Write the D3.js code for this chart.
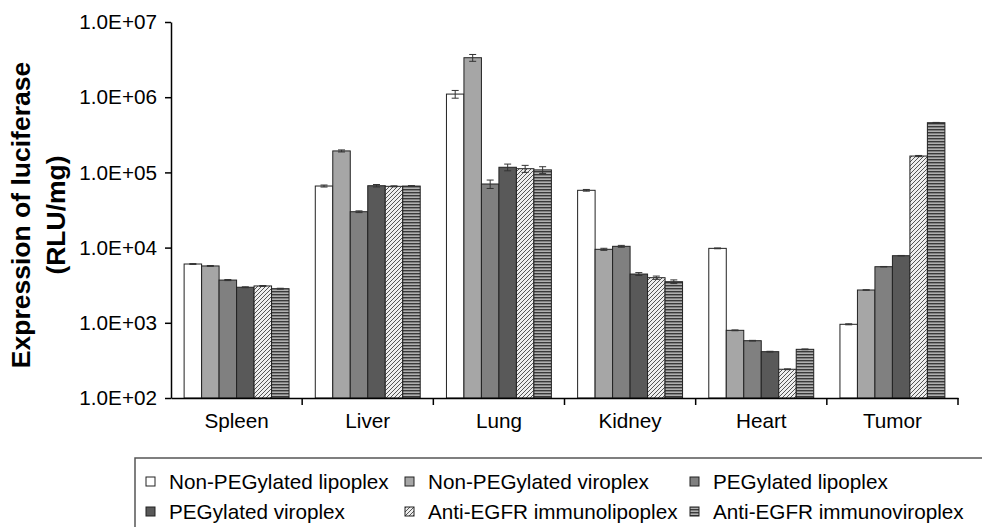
<!DOCTYPE html>
<html>
<head>
<meta charset="utf-8">
<script src="https://cdn.jsdelivr.net/npm/d3@7"></script>
<style>
  body { margin: 0; background: #fff; }
  svg { display: block; font-family: "Liberation Sans", Arial, sans-serif; }
</style>
</head>
<body>
<svg id="chart" width="982" height="527"></svg>
<script>
const organs = ["Spleen", "Liver", "Lung", "Kidney", "Heart", "Tumor"];
const seriesNames = [
  "Non-PEGylated lipoplex", "Non-PEGylated viroplex", "PEGylated lipoplex",
  "PEGylated viroplex", "Anti-EGFR immunolipoplex", "Anti-EGFR immunoviroplex"
];
// RLU/mg, one value per organ
const nonPegLipo = [6050, 65900, 1100000, 57800, 9770, 955];
const nonPegViro = [5700, 193000, 3350000, 9490, 794, 2730];
const pegLipo = [3700, 30000, 70100, 10400, 578, 5570];
const pegViro = [2970, 66500, 117000, 4450, 413, 7800];
const immunoLipo = [3090, 65300, 112000, 3980, 241, 165000];
const immunoViro = [2840, 65800, 108000, 3520, 444, 458000];
// error bars (absolute)
const errNonPegLipo = [80, 2000, 130000, 1500, 120, 15];
const errNonPegViro = [80, 6000, 350000, 300, 10, 20];
const errPegLipo = [60, 800, 9000, 300, 6, 40];
const errPegViro = [40, 2500, 12000, 200, 5, 60];
const errImmunoLipo = [40, 1000, 12000, 200, 3, 3000];
const errImmunoViro = [40, 1000, 11000, 200, 5, 4000];
const yTicks = [1e2, 1e3, 1e4, 1e5, 1e6, 1e7];
const yTickLabels = ["1.0E+02", "1.0E+03", "1.0E+04", "1.0E+05", "1.0E+06", "1.0E+07"];

const values = [nonPegLipo, nonPegViro, pegLipo, pegViro, immunoLipo, immunoViro];
const errors = [errNonPegLipo, errNonPegViro, errPegLipo, errPegViro, errImmunoLipo, errImmunoViro];
const fills = ["#ffffff", "#a6a6a6", "#808080", "#595959", "url(#hatch)", "url(#stripes)"];

const svg = d3.select("#chart");
const plotLeft = 171, plotRight = 958, plotTop = 22, plotBottom = 398;
const fontSize = 20.7;

// patterns
const defs = svg.append("defs");
const hatch = defs.append("pattern").attr("id", "hatch")
  .attr("patternUnits", "userSpaceOnUse").attr("width", 4).attr("height", 4);
hatch.append("rect").attr("width", 4).attr("height", 4).attr("fill", "#eeeeee");
hatch.append("path").attr("d", "M-1,1 l2,-2 M0,4 l4,-4 M3,5 l2,-2")
  .attr("stroke", "#555").attr("stroke-width", 1);
const stripes = defs.append("pattern").attr("id", "stripes")
  .attr("patternUnits", "userSpaceOnUse").attr("width", 4).attr("height", 3);
stripes.append("rect").attr("width", 4).attr("height", 3).attr("fill", "#b0b0b0");
stripes.append("rect").attr("y", 0).attr("width", 4).attr("height", 1.4).attr("fill", "#3a3a3a");

const y = d3.scaleLog().domain([1e2, 1e7]).range([plotBottom, plotTop]);
const x0 = d3.scaleBand().domain(organs).range([plotLeft, plotRight])
  .paddingInner(0.2).paddingOuter(0.1);
const x1 = d3.scaleBand().domain(d3.range(seriesNames.length))
  .range([0, x0.bandwidth()]).padding(0);
const xEdge = d3.scaleBand().domain(organs).range([plotLeft, plotRight]).padding(0);

// bars
const groups = svg.append("g").selectAll("g")
  .data(values)
  .enter()
  .append("g");

groups.each(function (vals, si) {
  const g = d3.select(this);
  g.selectAll("rect")
    .data(vals)
    .enter()
    .append("rect")
    .attr("x", (d, i) => x0(organs[i]) + x1(si))
    .attr("y", (d) => y(d))
    .attr("width", x1.bandwidth())
    .attr("height", (d) => plotBottom - y(d))
    .attr("fill", fills[si])
    .attr("stroke", "#222")
    .attr("stroke-width", 1);

  // error bars
  const errs = errors[si];
  const eb = g.selectAll("g.err")
    .data(vals)
    .enter()
    .append("g")
    .attr("class", "err");
  const cx = (i) => x0(organs[i]) + x1(si) + x1.bandwidth() / 2;
  eb.append("line")
    .attr("x1", (d, i) => cx(i)).attr("x2", (d, i) => cx(i))
    .attr("y1", (d, i) => y(d + errs[i])).attr("y2", (d, i) => y(Math.max(d - errs[i], 1e2)))
    .attr("stroke", "#333").attr("stroke-width", 1);
  eb.append("line")
    .attr("x1", (d, i) => cx(i) - 3.5).attr("x2", (d, i) => cx(i) + 3.5)
    .attr("y1", (d, i) => y(d + errs[i])).attr("y2", (d, i) => y(d + errs[i]))
    .attr("stroke", "#333").attr("stroke-width", 1);
  eb.append("line")
    .attr("x1", (d, i) => cx(i) - 3.5).attr("x2", (d, i) => cx(i) + 3.5)
    .attr("y1", (d, i) => y(d - errs[i])).attr("y2", (d, i) => y(d - errs[i]))
    .attr("stroke", "#333").attr("stroke-width", 1);
});

// y axis
const yAxis = svg.append("g")
  .attr("transform", `translate(${plotLeft},0)`)
  .call(d3.axisLeft(y).tickValues(yTicks)
    .tickFormat((d, i) => yTickLabels[i]).tickSize(6).tickSizeOuter(0).tickPadding(8));
yAxis.select(".domain").attr("stroke", "#000").attr("stroke-width", 1.5);
yAxis.selectAll(".tick line").attr("stroke", "#000").attr("stroke-width", 1.5);
yAxis.selectAll("text").attr("font-size", fontSize).attr("fill", "#000")
  .attr("font-family", "Liberation Sans, Arial, sans-serif");

// x axis
const xAxis = svg.append("g")
  .attr("transform", `translate(0,${plotBottom})`)
  .call(d3.axisBottom(x0).tickSize(0).tickSizeOuter(0).tickPadding(15.5));
xAxis.select(".domain").attr("stroke", "#000").attr("stroke-width", 1.5);
xAxis.selectAll("text").attr("font-size", fontSize).attr("fill", "#000")
  .attr("font-family", "Liberation Sans, Arial, sans-serif");
xAxis.selectAll("line.edge")
  .data(organs)
  .enter()
  .append("line")
  .attr("class", "edge")
  .attr("x1", (d) => xEdge(d) + xEdge.bandwidth())
  .attr("x2", (d) => xEdge(d) + xEdge.bandwidth())
  .attr("y1", 0).attr("y2", 7)
  .attr("stroke", "#000").attr("stroke-width", 1.5);

// y title
const title = svg.append("text")
  .attr("transform", "translate(30,215) rotate(-90)")
  .attr("text-anchor", "middle")
  .attr("font-size", 26.5)
  .attr("font-weight", "bold");
title.append("tspan").attr("x", 0).attr("dy", 0).text("Expression of luciferase");
title.append("tspan").attr("x", 0).attr("dy", 35).text("(RLU/mg)");

// legend
const legend = svg.append("g");
legend.append("rect")
  .attr("x", 135).attr("y", 458).attr("width", 870).attr("height", 90)
  .attr("fill", "none").attr("stroke", "#555").attr("stroke-width", 1.5);
const legCols = [146, 405, 690];
const legRows = [482, 512];
const items = legend.selectAll("g.item")
  .data(seriesNames)
  .enter()
  .append("g")
  .attr("class", "item")
  .attr("transform", (d, i) => `translate(${legCols[i % 3]},${legRows[Math.floor(i / 3)]})`);
items.append("rect")
  .attr("x", 0).attr("y", -5).attr("width", 9).attr("height", 9)
  .attr("fill", (d, i) => fills[i])
  .attr("stroke", "#222").attr("stroke-width", 1);
items.append("text")
  .attr("x", 23).attr("y", 0).attr("dy", "0.35em")
  .attr("font-size", fontSize)
  .text((d) => d);
</script>
</body>
</html>
